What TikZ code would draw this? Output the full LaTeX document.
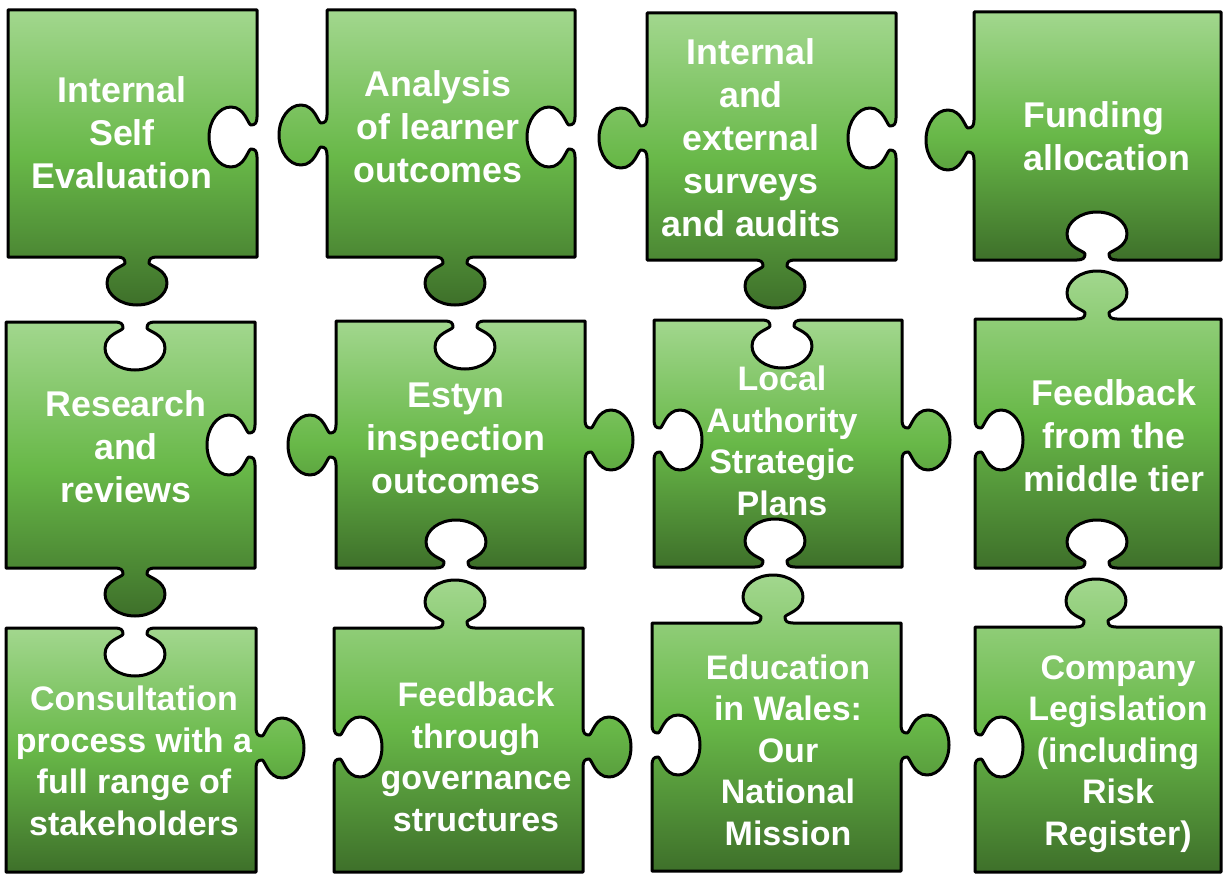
\documentclass[tikz,border=0pt]{standalone}
\usepackage{fontspec}
\setmainfont{Liberation Sans}
\definecolor{pTop}{RGB}{162,215,142}
\definecolor{pMid}{RGB}{104,184,72}
\definecolor{pBot}{RGB}{62,112,42}
% knob: #1,#2 centre on edge; #3,#4 unit along edge; #5,#6 unit offset (outward for tab, inward for blank)
\newcommand\knob[6]{%
 -- ({#1-20*(#3)},{#2-20*(#4)})
 .. controls ({#1-14*(#3)},{#2-14*(#4)}) and ({#1-12*(#3)+2*(#5)},{#2-12*(#4)+2*(#6)})
 .. ({#1-12*(#3)+6*(#5)},{#2-12*(#4)+6*(#6)})
 .. controls ({#1-12*(#3)+9*(#5)},{#2-12*(#4)+9*(#6)}) and ({#1-30*(#3)+12*(#5)},{#2-30*(#4)+12*(#6)})
 .. ({#1-30*(#3)+26*(#5)},{#2-30*(#4)+26*(#6)})
 .. controls ({#1-30*(#3)+38*(#5)},{#2-30*(#4)+38*(#6)}) and ({#1-16.6*(#3)+48*(#5)},{#2-16.6*(#4)+48*(#6)})
 .. ({#1+48*(#5)},{#2+48*(#6)})
 .. controls ({#1+16.6*(#3)+48*(#5)},{#2+16.6*(#4)+48*(#6)}) and ({#1+30*(#3)+38*(#5)},{#2+30*(#4)+38*(#6)})
 .. ({#1+30*(#3)+26*(#5)},{#2+30*(#4)+26*(#6)})
 .. controls ({#1+30*(#3)+12*(#5)},{#2+30*(#4)+12*(#6)}) and ({#1+12*(#3)+9*(#5)},{#2+12*(#4)+9*(#6)})
 .. ({#1+12*(#3)+6*(#5)},{#2+12*(#4)+6*(#6)})
 .. controls ({#1+12*(#3)+2*(#5)},{#2+12*(#4)+2*(#6)}) and ({#1+14*(#3)},{#2+14*(#4)})
 .. ({#1+20*(#3)},{#2+20*(#4)})
}
% side helpers: #3 = 1 tab, -1 blank
\newcommand\kT[3]{\knob{#1}{#2}{1}{0}{0}{-1*(#3)}}
\newcommand\kR[3]{\knob{#1}{#2}{0}{1}{#3}{0}}
\newcommand\kB[3]{\knob{#1}{#2}{-1}{0}{0}{#3}}
\newcommand\kL[3]{\knob{#1}{#2}{0}{-1}{-1*(#3)}{0}}
\tikzset{
 piece/.style={draw=black, line width=3pt, line join=round,
   top color=pTop, bottom color=pBot, middle color=pMid},
 lbl/.style={text=white, inner sep=0pt, align=center,
   font=\bfseries\fontsize{34}{41.5}\selectfont},
 lblw/.style={lbl, font=\bfseries\fontsize{35.8}{43}\selectfont}
}
\begin{document}
\begin{tikzpicture}[x=1pt,y=-1pt]
\useasboundingbox (0,0) rectangle (1224,875);
% row 1
\draw[piece] (8,10) -- (257,10) \kR{257}{137}{-1} -- (257,257) \kB{137}{257}{1} -- (8,257) -- cycle;
\draw[piece] (327,10) -- (575,10) \kR{575}{137}{-1} -- (575,257) \kB{455}{257}{1} -- (327,257) \kL{327}{135}{1} -- cycle;
\draw[piece] (647,13) -- (896,13) \kR{896}{138}{-1} -- (896,260) \kB{775}{260}{1} -- (647,260) \kL{647}{138}{1} -- cycle;
\draw[piece] (974,12) -- (1221,12) -- (1221,260) \kB{1097}{260}{-1} -- (974,260) \kL{974}{140}{1} -- cycle;
% row 2
\draw[piece] (6,322) \kT{135}{322}{-1} -- (255,322) \kR{255}{445}{-1} -- (255,568) \kB{135}{568}{1} -- (6,568) -- cycle;
\draw[piece] (336,321) \kT{465}{321}{-1} -- (585,321) \kR{585}{440}{1} -- (585,568) \kB{456}{568}{-1} -- (336,568) \kL{336}{445}{1} -- cycle;
\draw[piece] (654,320) \kT{782}{320}{-1} -- (902,320) \kR{902}{440}{1} -- (902,567) \kB{775}{567}{-1} -- (654,567) \kL{654}{440}{-1} -- cycle;
\draw[piece] (975,319) \kT{1097}{319}{1} -- (1221,319) -- (1221,568) \kB{1097}{568}{-1} -- (975,568) \kL{975}{440}{-1} -- cycle;
% row 3
\draw[piece] (6,628) \kT{135}{628}{-1} -- (256,628) \kR{256}{748}{1} -- (256,872) -- (6,872) -- cycle;
\draw[piece] (334,628) \kT{455}{628}{1} -- (583,628) \kR{583}{747}{1} -- (583,872) -- (334,872) \kL{334}{747}{-1} -- cycle;
\draw[piece] (652,623) \kT{773}{623}{1} -- (901,623) \kR{901}{745}{1} -- (901,871) -- (652,871) \kL{652}{745}{-1} -- cycle;
\draw[piece] (975,627) \kT{1096}{627}{1} -- (1221,627) -- (1221,872) -- (975,872) \kL{975}{747}{-1} -- cycle;
% labels
\node[lblw] (t1) at (122,133) {Internal\\Self\\Evaluation};
\node[lblw] (t2) at (438,127) {Analysis\\of learner\\outcomes};
\node[lblw] (t3) at (751,138) {Internal\\and\\external\\surveys\\and audits};
\node[lblw, align=left, anchor=west] (t4) at (1023,136) {Funding\\allocation};
\node[lblw] (t5) at (126,447) {Research\\and\\reviews};
\node[lblw] (t6) at (456,438) {Estyn\\inspection\\outcomes};
\node[lbl] (t7) at (782,441) {Local\\Authority\\Strategic\\Plans};
\node[lblw] (t8) at (1114,436) {Feedback\\from the\\middle tier};
\node[lbl] (t9) at (134,761) {Consultation\\process with a\\full range of\\stakeholders};
\node[lbl] (t10) at (476,757) {Feedback\\through\\governance\\structures};
\node[lbl] (t11) at (788,750) {Education\\in Wales:\\Our\\National\\Mission};
\node[lbl] (t12) at (1118,754) {Company\\Legislation\\(including\\Risk\\Register)};
\end{tikzpicture}
\end{document}
